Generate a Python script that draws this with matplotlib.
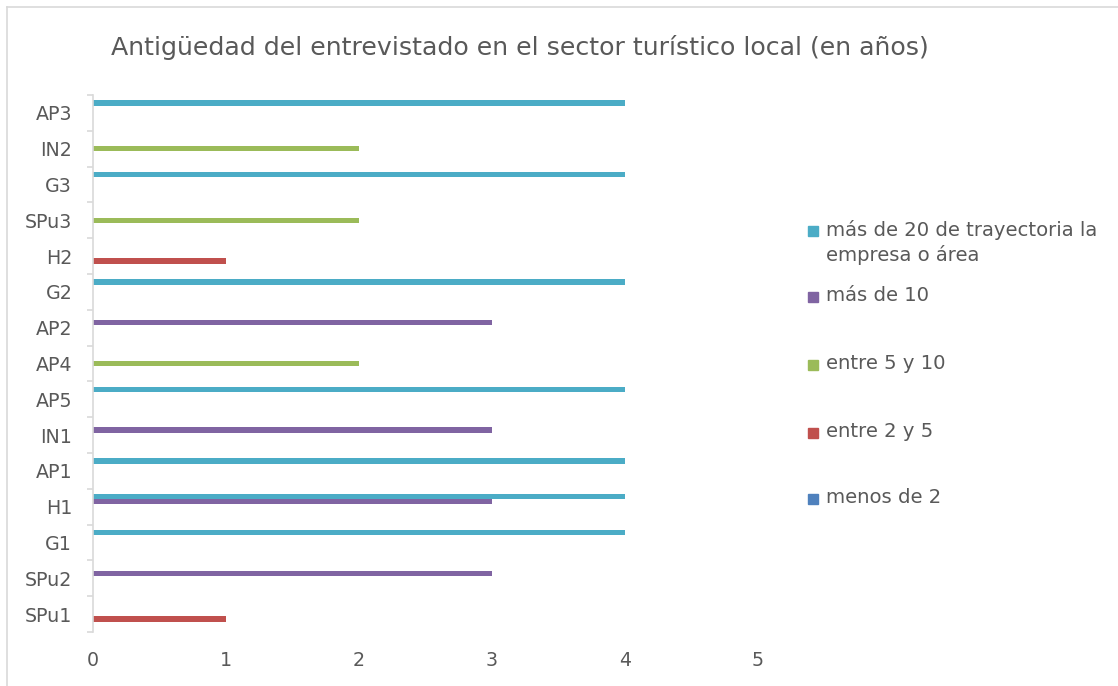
import numpy as np
import matplotlib
matplotlib.use('Agg')
import matplotlib.pyplot as plt
from matplotlib.patches import Rectangle
from matplotlib.lines import Line2D

# Categories bottom to top, as drawn in the chart
categories = ['SPu1', 'SPu2', 'G1', 'H1', 'AP1', 'IN1', 'AP5', 'AP4',
              'AP2', 'G2', 'H2', 'SPu3', 'G3', 'IN2', 'AP3']

# Values per series (0 = no bar)
menos_2 = [0, 0, 0, 0, 0, 0, 0, 0, 0, 0, 0, 0, 0, 0, 0]
entre_2_5 = [1, 0, 0, 0, 0, 0, 0, 0, 0, 0, 1, 0, 0, 0, 0]
entre_5_10 = [0, 0, 0, 0, 0, 0, 0, 2, 0, 0, 0, 2, 0, 2, 0]
mas_10 = [0, 3, 0, 3, 0, 3, 0, 0, 3, 0, 0, 0, 0, 0, 0]
mas_20 = [0, 0, 4, 4, 4, 0, 4, 0, 0, 4, 0, 0, 4, 0, 4]

series_names = ['menos de 2', 'entre 2 y 5', 'entre 5 y 10', 'más de 10',
                'más de 20 de trayectoria la\nempresa o área']
series_values = [menos_2, entre_2_5, entre_5_10, mas_10, mas_20]
colors = ['#4F81BD', '#C0504D', '#9BBB59', '#8064A2', '#4BACC6']

x_ticks = [0, 1, 2, 3, 4, 5]

text_color = '#595959'
W, H = 1118, 686
plt.rcParams['font.family'] = ['DejaVu Sans']


def fx(x):
    return x / W


def fy(y):
    return 1 - y / H


fig = plt.figure(figsize=(W / 100, H / 100), dpi=100)
ax = fig.add_axes([fx(93), fy(632), 665 / W, 537 / H])

# Clustered bars, series 1 at the bottom of each category
slot = 0.14
pos = np.arange(len(categories))
for i, (vals, col) in enumerate(zip(series_values, colors)):
    ax.barh(pos + (i - 2) * slot, vals, height=slot * 1.05, color=col, linewidth=0)

ax.set_xlim(0, 5)
ax.set_ylim(-0.5, len(categories) - 0.5)

ax.set_xticks(x_ticks)
ax.set_xticklabels([str(t) for t in x_ticks])
ax.tick_params(axis='x', length=0, pad=14, labelsize=13.7, labelcolor=text_color)

ax.set_yticks(np.arange(-0.5, len(categories)), labels=[])
ax.tick_params(axis='y', which='major', length=4.5, width=1.2, color='#d9d9d9')
ax.set_yticks(pos, labels=categories, minor=True)
ax.tick_params(axis='y', which='minor', length=0, pad=15, labelsize=13.7,
               labelcolor=text_color)

for s in ['top', 'right', 'bottom']:
    ax.spines[s].set_visible(False)
ax.spines['left'].set_color('#d9d9d9')
ax.spines['left'].set_linewidth(1.2)

fig.text(fx(520), fy(48), 'Antigüedad del entrevistado en el sector turístico local (en años)',
         ha='center', va='center', fontsize=18.2, color=text_color)

# Legend, top entry is the last series
leg_y = [499, 433, 365, 297, 231]
for name, col, y in zip(series_names, colors, leg_y):
    fig.patches.append(Rectangle((fx(808), fy(y + 5)), 10 / W, 10 / H,
                                 transform=fig.transFigure, color=col, figure=fig))
    fig.text(fx(826), fy(y - 11), name, ha='left', va='top', fontsize=14.1,
             color=text_color, linespacing=1.3)

# Chart frame
fig.lines.append(Line2D([fx(7), 1], [fy(7), fy(7)], transform=fig.transFigure,
                        color='#d9d9d9', linewidth=1.2))
fig.lines.append(Line2D([fx(7), fx(7)], [fy(7), 0], transform=fig.transFigure,
                        color='#d9d9d9', linewidth=1.2))

fig.savefig('out.png', dpi=100)
